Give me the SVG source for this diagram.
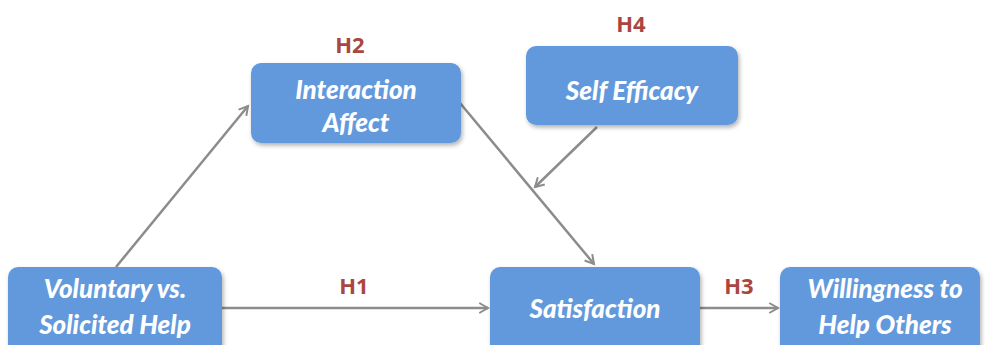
<svg xmlns="http://www.w3.org/2000/svg" width="985" height="345" viewBox="0 0 985 345">
  <style>
    .box { fill: #6299dd; }
    .lbl { font-family: Lato, "Open Sans", "Liberation Sans", sans-serif; font-weight: 900; font-style: italic; font-size: 26px; fill: #ffffff; text-anchor: middle; }
    .hyp { font-family: "Open Sans", "Liberation Sans", sans-serif; font-weight: bold; font-size: 22px; fill: #ab4540; text-anchor: middle; }
    .edge { stroke: #8c8c8c; stroke-width: 2.5; fill: none; marker-end: url(#arrow); }
  </style>
  <defs>
    <marker id="arrow" viewBox="0 0 10 10" refX="8" refY="5" markerWidth="5" markerHeight="5" orient="auto" markerUnits="strokeWidth">
      <path d="M1,1 L8,5 L1,9" fill="none" stroke="#8c8c8c" stroke-width="1.6"/>
    </marker>
    <filter id="shadow" x="-10%" y="-10%" width="125%" height="135%">
      <feDropShadow dx="1.5" dy="2.5" stdDeviation="2" flood-color="#000000" flood-opacity="0.3"/>
    </filter>
  </defs>
  <rect width="985" height="345" fill="#ffffff"/>

  <g id="connectors">
    <line class="edge" x1="116" y1="267" x2="248" y2="106"/>
    <line class="edge" x1="460" y1="103" x2="594" y2="264"/>
    <line class="edge" x1="597" y1="127" x2="535" y2="187"/>
    <line class="edge" x1="222" y1="308" x2="488" y2="308"/>
    <line class="edge" x1="700" y1="308" x2="778" y2="308"/>
  </g>

  <g id="interaction-affect">
    <rect class="box" x="251" y="63" width="210" height="80" rx="10" filter="url(#shadow)"/>
    <text class="lbl" x="356" y="99">Interaction</text>
    <text class="lbl" x="356" y="132">Affect</text>
    <text class="hyp" x="350" y="53">H2</text>
  </g>

  <g id="self-efficacy">
    <rect class="box" x="526" y="46" width="212" height="79" rx="10" filter="url(#shadow)"/>
    <text class="lbl" x="632" y="100">Self Efficacy</text>
    <text class="hyp" x="631" y="32">H4</text>
  </g>

  <g id="voluntary">
    <rect class="box" x="8" y="267" width="214" height="90" rx="10" filter="url(#shadow)"/>
    <text class="lbl" x="115" y="298">Voluntary vs.</text>
    <text class="lbl" x="115" y="334">Solicited Help</text>
  </g>

  <g id="satisfaction">
    <rect class="box" x="490" y="267" width="210" height="90" rx="10" filter="url(#shadow)"/>
    <text class="lbl" x="595" y="318">Satisfaction</text>
  </g>

  <g id="willingness">
    <rect class="box" x="780" y="267" width="200" height="90" rx="10" filter="url(#shadow)"/>
    <text class="lbl" x="885" y="298">Willingness to</text>
    <text class="lbl" x="885" y="334">Help Others</text>
  </g>

  <g id="hypothesis-labels">
    <text class="hyp" x="354" y="294">H1</text>
    <text class="hyp" x="739" y="294">H3</text>
  </g>
</svg>
